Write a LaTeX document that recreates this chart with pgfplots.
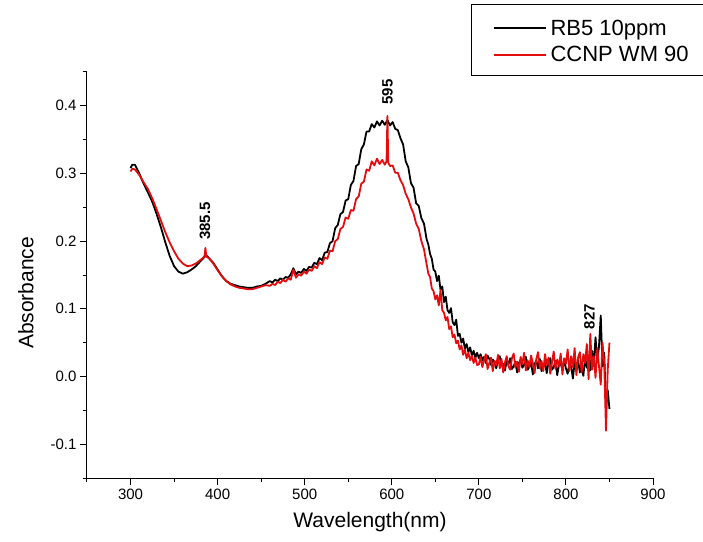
\documentclass[border=0pt]{standalone}
\usepackage{fontspec}
\setmainfont{Liberation Sans}
\usepackage{pgfplots}
\pgfplotsset{compat=1.18}
\definecolor{myred}{RGB}{228,12,12}
\begin{document}
\begin{tikzpicture}
\begin{axis}[
  scale only axis, width=566pt, height=406pt,
  xmin=250, xmax=900, ymin=-0.15, ymax=0.45,
  axis lines=left, axis line style={-, line width=1pt},
  clip=false,
  xtick={300,400,...,900}, minor xtick={250,350,...,850},
  ytick={-0.1,0,0.1,0.2,0.3,0.4},
  minor ytick={-0.15,-0.05,0.05,0.15,0.25,0.35,0.45},
  tick align=outside, major tick length=7pt, minor tick length=4pt,
  every tick/.style={line width=1pt, black},
  /pgf/number format/assume math mode=true,
  yticklabel style={/pgf/number format/.cd, fixed, fixed zerofill, precision=1},
  ticklabel style={font=\fontsize{15}{18}\selectfont},
  xlabel={Wavelength(nm)}, ylabel={Absorbance},
  label style={font=\fontsize{21}{24}\selectfont},
  xlabel style={at={(axis description cs:0.5,-0.108)}, anchor=center},
  ylabel style={at={(axis description cs:-0.108,0.456)}, anchor=center, rotate=0},
  legend style={at={(axis description cs:0.717,1.075)}, anchor=west, draw=none, fill=none,
    inner sep=0pt, row sep=6pt, font=\fontsize{22}{24}\selectfont, cells={anchor=west}},
  legend image code/.code={\draw[#1,line width=1.3pt] (0pt,0pt) -- (52pt,0pt); \path (54pt,0pt);},
]
\addplot[black, line width=1.8pt, line join=round] coordinates {
(300,0.308) (302,0.313) (305,0.313) (310,0.300) (315,0.285) (320,0.272) (325,0.258) (330,0.240)
(335,0.220) (340,0.198) (345,0.178) (350,0.163) (355,0.155) (360,0.152) (365,0.154) (370,0.158)
(375,0.163) (380,0.170) (383,0.174) (385,0.177) (388,0.178) (390,0.175) (395,0.168) (400,0.158)
(405,0.148) (410,0.141) (415,0.137) (420,0.135) (425,0.133) (430,0.132) (435,0.131) (440,0.131)
(445,0.133) (450,0.134) (455,0.137)
(460,0.141) (463,0.139) (466,0.143) (469,0.141) (472,0.145) (475,0.143) (478,0.147) (481,0.146)
(484,0.151) (487,0.160) (490,0.151) (493,0.155) (496,0.153) (499,0.159) (502,0.156) (505,0.162)
(508,0.161) (511,0.168) (514,0.166) (517,0.175) (520,0.172) (523,0.183) (526,0.184) (529,0.197)
(532,0.200) (535,0.219) (538,0.224) (541,0.240) (544,0.243) (547,0.260) (550,0.262) (553,0.283)
(556,0.289) (559,0.311) (562,0.314) (565,0.336) (568,0.343) (571,0.362) (574,0.362) (577,0.373)
(580,0.368) (583,0.377) (586,0.371) (589,0.378) (592,0.372) (595,0.379) (598,0.371) (601,0.376)
(604,0.366) (607,0.364) (610,0.352) (613,0.343) (616,0.318) (619,0.309) (622,0.286) (625,0.279)
(628,0.256) (631,0.252) (634,0.234) (637,0.226)
(640,0.203) (642,0.195) (644,0.181) (646,0.174) (648,0.158) (650,0.155) (652,0.141) (654,0.149)
(656,0.128) (658,0.133) (660,0.110) (662,0.118) (664,0.098) (666,0.094) (668,0.101) (670,0.080)
(672,0.076) (674,0.084) (676,0.060) (678,0.063) (680,0.050) (682,0.056) (684,0.041) (686,0.048)
(688,0.036) (690,0.043) (692,0.031) (694,0.038) (696,0.028) (698,0.035)
(700,0.027) (702,0.033) (704,0.024) (706,0.029) (708,0.020) (710,0.031) (712,0.026) (714,0.017)
(716,0.025) (718,0.021) (720,0.012) (722,0.026) (724,0.030) (726,0.016) (728,0.019) (730,0.009)
(732,0.024) (734,0.018) (736,0.027) (738,0.011) (740,0.015) (742,0.022) (744,0.006) (746,0.020)
(748,0.025) (750,0.013) (752,0.017) (754,0.029) (756,0.010) (758,0.014) (760,0.021) (762,0.003)
(764,0.018) (766,0.024) (768,0.012) (770,0.026) (772,0.008) (774,0.016) (776,0.019) (778,0.005)
(780,0.022) (782,0.027) (784,0.010) (786,0.014) (788,0.023) (790,0.002) (792,0.017) (794,0.020)
(796,0.009) (798,0.025) (800,0.012) (802,0.004) (804,0.019) (806,0.015) (808,-0.003) (810,0.021)
(812,0.010) (814,0.024) (816,0.006) (818,0.017) (820,0.001) (822,0.026) (824,0.013) (826,0.031)
(828,0.009) (830,0.038) (832,0.018) (834,0.058) (836,0.022) (838,0.045) (840,0.090) (842,0.015)
(844,0.035) (846,-0.045) (848,-0.020) (850,-0.048)
};
\addlegendentry{RB5 10ppm}
\addplot[myred, line width=1.8pt, line join=round] coordinates {
(300,0.303) (302,0.307) (305,0.306) (310,0.298) (315,0.287) (320,0.277) (325,0.263) (330,0.247)
(335,0.230) (340,0.213) (345,0.198) (350,0.185) (355,0.174) (360,0.167) (365,0.163) (370,0.164)
(375,0.167) (380,0.172) (383,0.175) (385,0.178) (386,0.190) (387,0.177) (390,0.175) (395,0.167)
(400,0.157) (405,0.148) (410,0.141) (415,0.136) (420,0.133) (425,0.131) (430,0.130) (435,0.129)
(440,0.129) (445,0.131) (450,0.133) (455,0.135)
(460,0.134) (463,0.137) (466,0.135) (469,0.140) (472,0.138) (475,0.143) (478,0.140) (481,0.145)
(484,0.143) (487,0.158) (490,0.146) (493,0.151) (496,0.149) (499,0.155) (502,0.152) (505,0.158)
(508,0.156) (511,0.163) (514,0.160) (517,0.169) (520,0.166) (523,0.176) (526,0.174) (529,0.186)
(532,0.185) (535,0.200) (538,0.203) (541,0.218) (544,0.221) (547,0.235) (550,0.233) (553,0.246)
(556,0.245) (559,0.262) (562,0.266) (565,0.285) (568,0.288) (571,0.306) (574,0.304) (577,0.318)
(580,0.312) (583,0.322) (586,0.314) (589,0.320) (592,0.313) (594,0.318) (595,0.385) (596,0.316)
(598,0.311) (601,0.312) (604,0.301) (607,0.301) (610,0.290) (613,0.283) (616,0.270) (619,0.262)
(622,0.250) (625,0.241) (628,0.226) (631,0.218) (634,0.200) (637,0.188)
(640,0.166) (642,0.152) (644,0.147) (646,0.130) (648,0.126) (650,0.114) (652,0.120) (654,0.105)
(656,0.128) (658,0.098) (660,0.094) (662,0.083) (664,0.088) (666,0.070) (668,0.074) (670,0.058)
(672,0.062) (674,0.049) (676,0.053) (678,0.040) (680,0.046) (682,0.032) (684,0.040) (686,0.027)
(688,0.035) (690,0.024) (692,0.031) (694,0.020) (696,0.028) (698,0.017)
(700,0.018) (702,0.029) (704,0.014) (706,0.024) (708,0.033) (710,0.011) (712,0.020) (714,0.028)
(716,0.008) (718,0.023) (720,0.017) (722,0.032) (724,0.012) (726,0.026) (728,0.006) (730,0.021)
(732,0.030) (734,0.015) (736,0.010) (738,0.027) (740,0.034) (742,0.013) (744,0.022) (746,0.007)
(748,0.029) (750,0.019) (752,0.035) (754,0.009) (756,0.024) (758,0.014) (760,0.031) (762,0.020)
(764,0.005) (766,0.026) (768,0.036) (770,0.012) (772,0.023) (774,0.008) (776,0.033) (778,0.017)
(780,0.028) (782,0.004) (784,0.021) (786,0.037) (788,0.011) (790,0.025) (792,0.015) (794,0.034)
(796,0.003) (798,0.027) (800,0.019) (802,0.040) (804,0.008) (806,0.030) (808,0.014) (810,0.042)
(812,0.002) (814,0.028) (816,0.036) (818,0.006) (820,0.033) (822,0.020) (824,0.048) (826,-0.004)
(828,0.063) (830,0.010) (832,0.030) (834,-0.002) (836,0.042) (838,0.015) (840,-0.012) (842,0.050)
(844,0.020) (846,-0.080) (848,0.010) (850,0.050)
};
\addlegendentry{CCNP WM 90}
\node[rotate=90, anchor=west, font=\fontsize{15}{18}\selectfont\bfseries, inner sep=1pt] at (axis cs:385.5,0.200) {385.5};
\node[rotate=90, anchor=west, font=\fontsize{15}{18}\selectfont\bfseries, inner sep=1pt] at (axis cs:595,0.400) {595};
\node[rotate=90, anchor=west, font=\fontsize{15}{18}\selectfont\bfseries, inner sep=1pt] at (axis cs:827,0.068) {827};
\draw[line width=0.8pt] (axis description cs:0.680,1.1675) rectangle (axis description cs:1.12,0.9926);
\end{axis}
\pgfresetboundingbox
\path (current axis.south west) ++(-87pt,-63pt) rectangle ++(703pt,541pt);
\end{tikzpicture}
\end{document}
